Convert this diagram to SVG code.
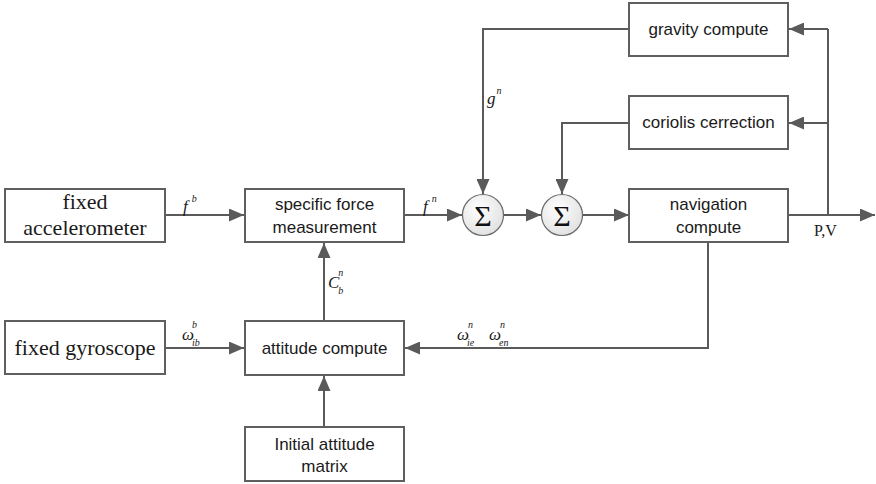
<svg xmlns="http://www.w3.org/2000/svg" width="876" height="484" viewBox="0 0 876 484">
<style>
.box{fill:#fff;stroke:#5f5f5f;stroke-width:2}
.lbl{font-family:"Liberation Sans",Arial,sans-serif;font-size:17px;fill:#1a1a1a;text-anchor:middle}
.ser{font-family:"Liberation Serif","Times New Roman",serif;font-size:22px;fill:#1a1a1a;text-anchor:middle}
.m{font-family:"Liberation Serif","Times New Roman",serif;font-style:italic;font-size:17px;fill:#1a1a1a}
.s{font-size:10px}
.ln{fill:none;stroke:#5a5a5a;stroke-width:2}
.arr{marker-end:url(#ah)}
.sum{fill:url(#g);stroke:#6a6a6a;stroke-width:1.2}
.sig{font-family:"Liberation Serif","Times New Roman",serif;font-size:30px;fill:#111;text-anchor:middle}
</style>
<defs>
<marker id="ah" markerUnits="userSpaceOnUse" markerWidth="15" markerHeight="13" refX="15" refY="6.5" orient="auto">
<path d="M0,0 L15,6.5 L0,13 z" fill="#5a5a5a"/>
</marker>
<radialGradient id="g" cx="0.4" cy="0.35" r="0.7">
<stop offset="0" stop-color="#ffffff"/>
<stop offset="1" stop-color="#e0e0e0"/>
</radialGradient>
</defs>

<g id="connectors">
<path class="ln arr" d="M165,215 H244"/>
<path class="ln arr" d="M404,215 H462"/>
<path class="ln arr" d="M504,215 H541"/>
<path class="ln arr" d="M583,215 H629"/>
<path class="ln arr" d="M788,215 H875"/>
<path class="ln" d="M828,215 V29"/>
<path class="ln arr" d="M828,29 H789"/>
<path class="ln arr" d="M828,123 H789"/>
<path class="ln arr" d="M629,29 H483 V194"/>
<path class="ln arr" d="M629,123 H562 V194"/>
<path class="ln arr" d="M708,242 V348 H405"/>
<path class="ln arr" d="M324,321 V243"/>
<path class="ln arr" d="M324,427 V376"/>
<path class="ln arr" d="M165,348 H244"/>
</g>

<g id="labels">
<text class="m" x="183" y="212">f<tspan class="s" dx="4" dy="-10">b</tspan></text>
<text class="m" x="423" y="212">f<tspan class="s" dx="4" dy="-10">n</tspan></text>
<text class="m" x="487" y="104">g<tspan class="s" dx="1" dy="-10">n</tspan></text>
<text class="m" x="328" y="288">C<tspan class="s" dx="-1" dy="-12">n</tspan><tspan class="s" dx="-5" dy="18">b</tspan></text>
<text class="m" x="182" y="340">ω<tspan class="s" dx="-2" dy="-12">b</tspan><tspan class="s" dx="-5" dy="18">ib</tspan></text>
<text class="m" x="457" y="340">ω<tspan class="s" dx="-1" dy="-12">n</tspan><tspan class="s" dx="-6" dy="18">ie</tspan></text>
<text class="m" x="489" y="340">ω<tspan class="s" dx="-1" dy="-12">n</tspan><tspan class="s" dx="-6" dy="18">en</tspan></text>
<text x="814" y="236" font-family="Liberation Serif,Times New Roman,serif" font-size="16" fill="#1a1a1a">P,V</text>
</g>

<g id="acc">
<rect class="box" x="5" y="189" width="160" height="53"/>
<text class="ser" x="85" y="209">fixed</text>
<text class="ser" x="85" y="235">accelerometer</text>
</g>
<g id="sfm">
<rect class="box" x="245" y="189" width="159" height="53"/>
<text class="lbl" x="324.5" y="210">specific force</text>
<text class="lbl" x="324.5" y="233">measurement</text>
</g>
<g id="sum1">
<circle class="sum" cx="483" cy="215" r="20.5"/>
<text class="sig" x="483" y="226">Σ</text>
</g>
<g id="sum2">
<circle class="sum" cx="562" cy="215" r="20.5"/>
<text class="sig" x="562" y="226">Σ</text>
</g>
<g id="nav">
<rect class="box" x="629" y="189" width="159" height="53"/>
<text class="lbl" x="708.5" y="210">navigation</text>
<text class="lbl" x="708.5" y="233">compute</text>
</g>
<g id="gravity">
<rect class="box" x="629" y="3" width="159" height="53"/>
<text class="lbl" x="708.5" y="35">gravity compute</text>
</g>
<g id="coriolis">
<rect class="box" x="629" y="96" width="159" height="53"/>
<text class="lbl" x="708.5" y="128">coriolis cerrection</text>
</g>
<g id="gyro">
<rect class="box" x="5" y="321" width="160" height="53"/>
<text class="ser" x="85" y="355">fixed gyroscope</text>
</g>
<g id="attitude">
<rect class="box" x="245" y="321" width="159" height="54"/>
<text class="lbl" x="324.5" y="354">attitude compute</text>
</g>
<g id="initial">
<rect class="box" x="245" y="427" width="159" height="54"/>
<text class="lbl" x="324.5" y="450">Initial attitude</text>
<text class="lbl" x="324.5" y="472">matrix</text>
</g>
</svg>
